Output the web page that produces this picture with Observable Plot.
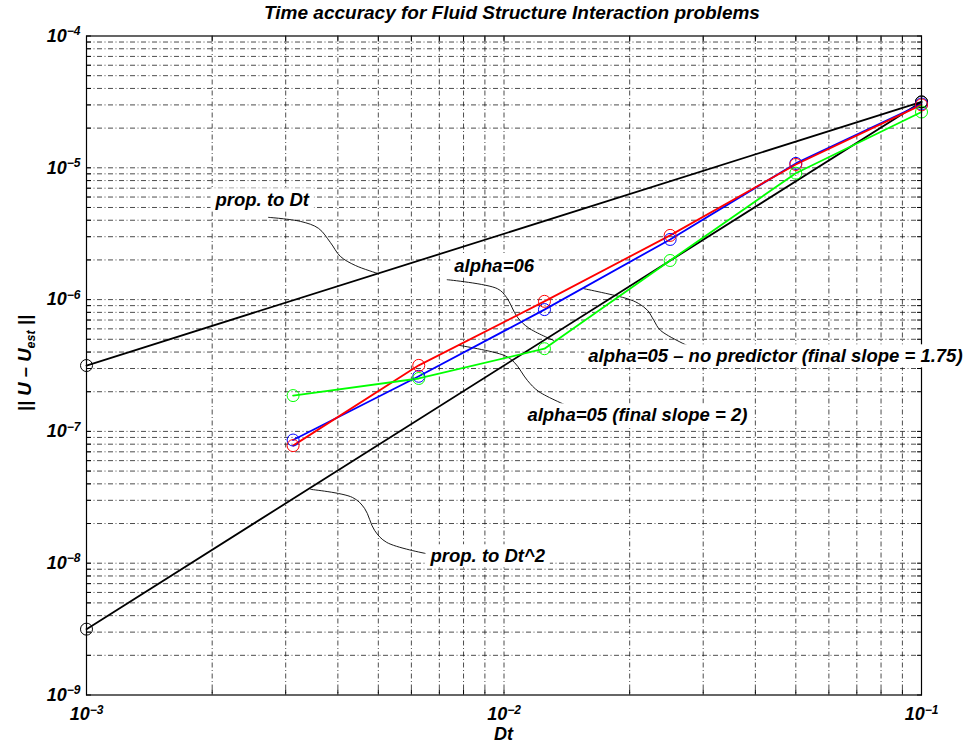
<!DOCTYPE html>
<html><head><meta charset="utf-8">
<script src="https://cdn.jsdelivr.net/npm/d3@7"></script>
<script src="https://cdn.jsdelivr.net/npm/@observablehq/plot@0.6"></script>
<style>
body{margin:0;background:#fff;}
</style></head><body><div id="chart"></div>
<script>
// ---- data ----
const dt = [0.003125, 0.00625, 0.0125, 0.025, 0.05, 0.1];
const errRed   = [7.8e-8, 3.17e-7, 9.7e-7, 3.07e-6, 1.06e-5, 3.0e-5];
const errBlue  = [8.6e-8, 2.62e-7, 8.4e-7, 2.86e-6, 1.08e-5, 3.05e-5];
const errGreen = [1.87e-7, 2.52e-7, 4.24e-7, 1.98e-6, 9.1e-6, 2.65e-5];
const refDt = [0.001, 0.1];
const refOrder1 = [3.16e-7, 3.16e-5];
const refOrder2 = [3.16e-9, 3.16e-5];
const xTickExps = [-3, -2, -1];
const yTickExps = [-9, -8, -7, -6, -5, -4];
const titleText = "Time accuracy for Fluid Structure Interaction problems";
const xLabel = "Dt";
// annotation labels (anchor in log10 data units)
const labelTexts = ["prop. to Dt", "alpha=06", "alpha=05 \u2013 no predictor (final slope = 1.75)", "alpha=05 (final slope = 2)", "prop. to Dt^2"];
const labelLogDt  = [-2.691, -2.119, -1.798, -1.944, -2.176];
const labelLogErr = [-5.247, -5.748, -6.431, -6.879, -7.948];
// leader curves, [log10 Dt, log10 err]
const leaderPropDt = [[-2.564,-5.376],[-2.487,-5.407],[-2.444,-5.460],[-2.416,-5.566],[-2.392,-5.672],[-2.356,-5.741],[-2.303,-5.801]];
const leaderAlpha06 = [[-2.136,-5.849],[-2.016,-5.917],[-1.994,-5.983],[-1.968,-6.133],[-1.941,-6.215],[-1.881,-6.310]];
const leaderSlope2 = [[-2.108,-6.347],[-2.000,-6.423],[-1.975,-6.477],[-1.944,-6.613],[-1.917,-6.697],[-1.841,-6.816]];
const leaderNoPred = [[-1.809,-5.917],[-1.705,-5.993],[-1.678,-6.029],[-1.656,-6.082],[-1.641,-6.158],[-1.625,-6.234],[-1.545,-6.373]];
const leaderPropDt2 = [[-2.463,-7.440],[-2.363,-7.501],[-2.334,-7.584],[-2.310,-7.751],[-2.281,-7.842],[-2.188,-7.926]];

// ---- build tables ----
const FONT = "'Liberation Sans', Arial, Helvetica, sans-serif";
const rows = (ys) => dt.map((d, i) => ({dt: d, err: ys[i]}));
const refRows = (ys) => refDt.map((d, i) => ({dt: d, err: ys[i]}));
const leaders = [leaderPropDt, leaderAlpha06, leaderSlope2, leaderNoPred, leaderPropDt2];
const leaderRows = leaders.flatMap((pts, i) => pts.map(([lx, ly]) => ({id: i, dt: 10 ** lx, err: 10 ** ly})));
const labelRows = labelTexts.map((t, i) => ({text: t, dt: 10 ** labelLogDt[i], err: 10 ** labelLogErr[i]}));
const xTicks = xTickExps.map(e => 10 ** e);
const yTicks = yTickExps.map(e => 10 ** e);
const xAll = d3.scaleLog().domain([1e-3, 1e-1]).ticks();
const yAll = d3.scaleLog().domain([1e-9, 1e-4]).ticks();
const xGrid = xAll.filter(v => v > 1.001e-3 && v < 0.0999);
const yGrid = yAll.filter(v => v > 1.001e-9 && v < 0.999e-4);
const fmt = d => "10^" + String(Math.round(Math.log10(d))).replace("-", "\u2212");
const blank = () => "";
const gridStyle = {stroke: "#111", strokeWidth: 0.75, strokeDasharray: "5,2.5,1,2.5"};

const series = [
  {ys: errBlue, color: "#0000ff"},
  {ys: errRed, color: "#ff0000"},
  {ys: errGreen, color: "#00ff00"}
];

const chart = Plot.plot({
  width: 965, height: 749,
  marginLeft: 86, marginRight: 44, marginTop: 35.5, marginBottom: 54.5,
  style: {fontFamily: FONT, fontSize: "18px", background: "white", overflow: "visible"},
  x: {type: "log", domain: [1e-3, 1e-1]},
  y: {type: "log", domain: [1e-9, 1e-4]},
  marks: [
    Plot.ruleX(xGrid, gridStyle),
    Plot.ruleY(yGrid, gridStyle),
    // inner tick marks on all four sides
    Plot.axisX(xAll, {anchor: "bottom", tickSize: -5, tickFormat: blank, label: null}),
    Plot.axisX(xAll, {anchor: "top", tickSize: -5, tickFormat: blank, label: null}),
    Plot.axisY(yAll, {anchor: "left", tickSize: -5, tickFormat: blank, label: null}),
    Plot.axisY(yAll, {anchor: "right", tickSize: -5, tickFormat: blank, label: null}),
    Plot.axisX({ticks: xTicks, tickFormat: fmt, tickSize: 0, tickPadding: 12.6, label: null}),
    Plot.axisY({ticks: yTicks, tickFormat: fmt, tickSize: 0, tickPadding: 6, label: null}),
    Plot.line(leaderRows, {x: "dt", y: "err", z: "id", curve: "catmull-rom", stroke: "black", strokeWidth: 0.9}),
    Plot.line(refRows(refOrder1), {x: "dt", y: "err", stroke: "black", strokeWidth: 1.8}),
    Plot.line(refRows(refOrder2), {x: "dt", y: "err", stroke: "black", strokeWidth: 1.8}),
    Plot.dot(refRows(refOrder1), {x: "dt", y: "err", r: 6, stroke: "black", fill: "none", strokeWidth: 1}),
    Plot.dot(refRows(refOrder2), {x: "dt", y: "err", r: 6, stroke: "black", fill: "none", strokeWidth: 1}),
    ...series.map(s => Plot.line(rows(s.ys), {x: "dt", y: "err", stroke: s.color, strokeWidth: 1.8})),
    ...series.map(s => Plot.dot(rows(s.ys), {x: "dt", y: "err", r: 6, stroke: s.color, fill: "none", strokeWidth: 1})),
    Plot.frame({stroke: "black", strokeWidth: 1.2}),
    Plot.text(labelRows, {x: "dt", y: "err", text: "text", textAnchor: "start", lineAnchor: "middle",
      fontSize: 18.5, fontWeight: "bold", fontStyle: "italic", fill: "black"})
  ]
});
document.getElementById("chart").appendChild(chart);
const svg = d3.select(chart);

// superscript tick labels
svg.selectAll('g[aria-label="x-axis tick label"] text, g[aria-label="y-axis tick label"] text').each(function() {
  const s = this.textContent;
  if (!s) return;
  const [b, e] = s.split("^");
  const t = d3.select(this);
  t.text(null).attr("font-size", "18px").attr("font-weight", "bold").attr("font-style", "italic").attr("fill", "black");
  t.append("tspan").text(b);
  t.append("tspan").attr("dy", "-0.55em").attr("font-size", "12px").text(e || "");
});

// white boxes behind annotation labels
svg.selectAll('g[aria-label="text"] text').each(function() {
  const bb = this.getBBox();
  const r = document.createElementNS("http://www.w3.org/2000/svg", "rect");
  r.setAttribute("x", bb.x - 4); r.setAttribute("y", bb.y - 1);
  r.setAttribute("width", bb.width + 8); r.setAttribute("height", bb.height + 2);
  r.setAttribute("fill", "white");
  const tr = this.getAttribute("transform");
  if (tr) r.setAttribute("transform", tr);
  this.parentNode.insertBefore(r, this);
});

// title and axis labels
svg.append("text").attr("x", 512).attr("y", 19).attr("text-anchor", "middle")
  .attr("font-size", "19px").attr("font-weight", "bold").attr("font-style", "italic").text(titleText);
svg.append("text").attr("x", 503.5).attr("y", 740).attr("text-anchor", "middle")
  .attr("font-size", "18px").attr("font-weight", "bold").attr("font-style", "italic").text(xLabel);
const yl = svg.append("text").attr("transform", "translate(31,363) rotate(-90)").attr("text-anchor", "middle")
  .attr("font-size", "18.5px").attr("font-weight", "bold").attr("font-style", "italic");
yl.append("tspan").text("|| U \u2013 U");
yl.append("tspan").attr("dy", "0.35em").attr("font-size", "12.5px").text("est");
yl.append("tspan").attr("dy", "-0.25em").text(" ||");
</script>
</body></html>
